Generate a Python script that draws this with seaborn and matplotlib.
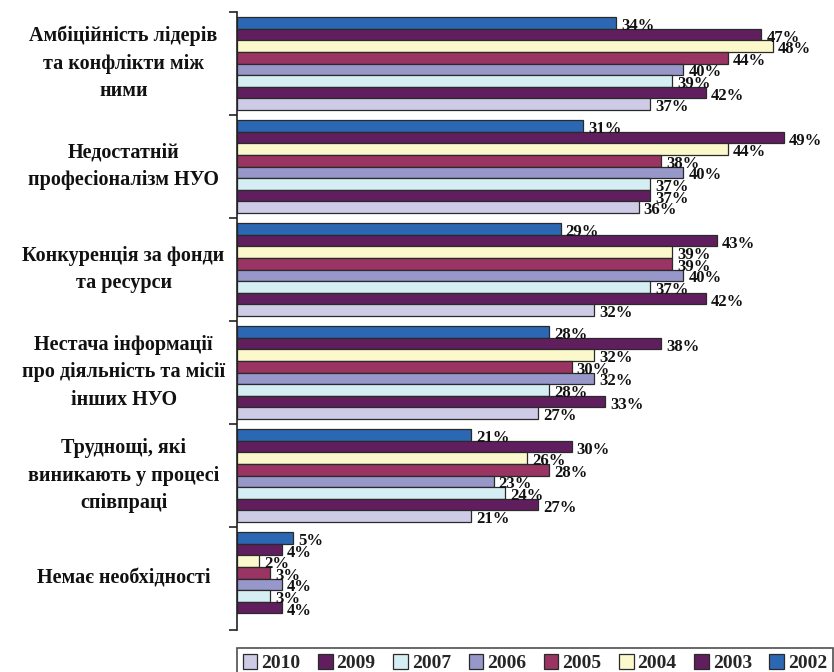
import matplotlib
matplotlib.use("Agg")
import matplotlib.pyplot as plt
import seaborn as sns
import pandas as pd

categories = [
    "Амбіційність лідерів\nта конфлікти між\nними",
    "Недостатній\nпрофесіоналізм НУО",
    "Конкуренція за фонди\nта ресурси",
    "Нестача інформації\nпро діяльність та місії\nінших НУО",
    "Труднощі, які\nвиникають у процесі\nспівпраці",
    "Немає необхідності",
]

years = ["2002", "2003", "2004", "2005", "2006", "2007", "2009", "2010"]

v2002 = [34, 31, 29, 28, 21, 5]
v2003 = [47, 49, 43, 38, 30, 4]
v2004 = [48, 44, 39, 32, 26, 2]
v2005 = [44, 38, 39, 30, 28, 3]
v2006 = [40, 40, 40, 32, 23, 4]
v2007 = [39, 37, 37, 28, 24, 3]
v2009 = [42, 37, 42, 33, 27, 4]
v2010 = [37, 36, 32, 27, 21, None]

colors = {
    "2002": "#2C67B3",
    "2003": "#611E5E",
    "2004": "#FBF8CC",
    "2005": "#9A3462",
    "2006": "#9797CA",
    "2007": "#D5EEF3",
    "2009": "#611E5E",
    "2010": "#CDCBE6",
}

series = [v2002, v2003, v2004, v2005, v2006, v2007, v2009, v2010]
rows = []
for yr, vals in zip(years, series):
    for cat, v in zip(categories, vals):
        if v is not None:
            rows.append({"category": cat, "year": yr, "value": v})
df = pd.DataFrame(rows)

sns.set_style("white")
plt.rcParams["font.family"] = ["Liberation Serif", "DejaVu Serif"]

fig = plt.figure(figsize=(8.34, 6.72), dpi=100)
ax = fig.add_axes([237 / 834, 1 - 630 / 672, 597 / 834, 618 / 672])

sns.barplot(
    data=df, y="category", x="value", hue="year", order=categories,
    hue_order=years, palette=colors, orient="h", width=0.9,
    edgecolor="#2a2a2a", linewidth=0.9, saturation=1, ax=ax, legend=True,
)

# value labels at bar ends
for cont, yr in zip(ax.containers, years):
    for bar in cont:
        w = bar.get_width()
        if w != w or w == 0:
            continue
        y = bar.get_y() + bar.get_height() / 2
        ax.text(w + 0.45, y + 0.03, f"{int(round(w))}%", ha="left", va="center",
                fontsize=12, fontweight="bold", color="#111111", clip_on=False)

ax.set_xlim(0, 53.5)
ax.set_ylim(len(categories) - 0.5, -0.5)
ax.set_xlabel("")
ax.set_ylabel("")
ax.set_xticks([])
ax.set_yticks([i - 0.5 for i in range(len(categories) + 1)])
ax.set_yticklabels([])
ax.tick_params(axis="y", direction="out", length=6, width=1.2, color="#222222", left=True)
for s in ["top", "right", "bottom"]:
    ax.spines[s].set_visible(False)
ax.spines["left"].set_color("#222222")
ax.spines["left"].set_linewidth(1.2)

for i, cat in enumerate(categories):
    ax.text(-0.19, i, cat, transform=ax.get_yaxis_transform(), ha="center", va="center",
            fontsize=14.5, fontweight="bold", color="#111111", linespacing=1.5)

handles, labels = ax.get_legend_handles_labels()
ax.get_legend().remove()
leg = fig.legend(
    handles[::-1], labels[::-1], loc="lower left",
    bbox_to_anchor=(237 / 834, -6 / 672, 596 / 834, 35 / 672), mode="expand",
    ncol=8, frameon=True, fancybox=False, handlelength=0.75, handleheight=0.75,
    handletextpad=0.2, columnspacing=0.3, borderpad=0.3, borderaxespad=0.0,
    prop={"weight": "bold", "size": 14},
)
leg.get_frame().set_edgecolor("#222222")
leg.get_frame().set_linewidth(1.2)

fig.savefig("out.png", dpi=100)
